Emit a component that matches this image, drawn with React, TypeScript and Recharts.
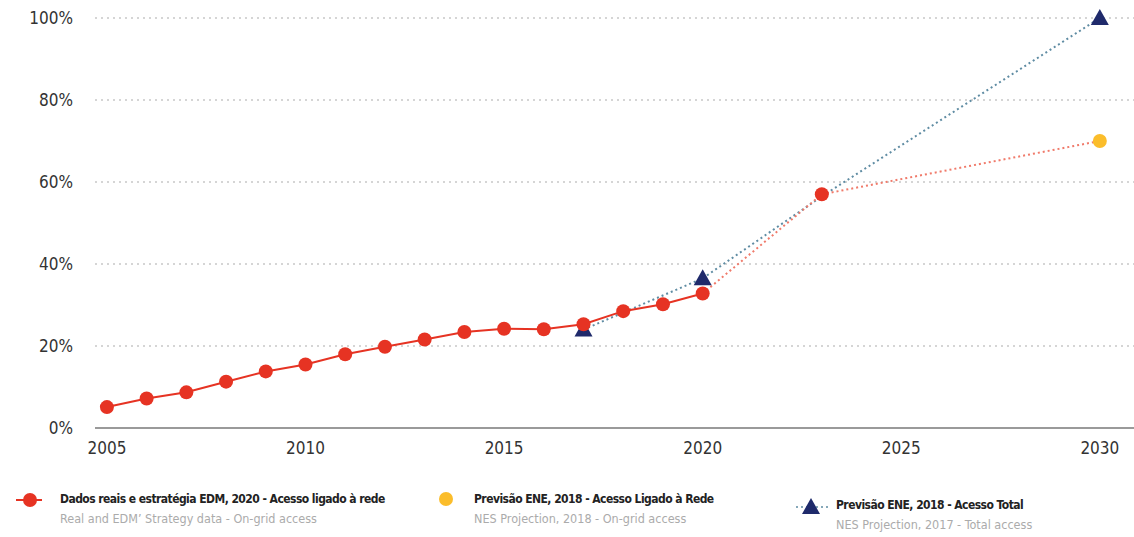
import React from 'react';
import { LineChart, Line, XAxis, YAxis, CartesianGrid } from 'recharts';

const realYears = [2005, 2006, 2007, 2008, 2009, 2010, 2011, 2012, 2013, 2014, 2015, 2016, 2017, 2018, 2019, 2020];
const realValues = [5.1, 7.2, 8.7, 11.3, 13.8, 15.5, 18, 19.8, 21.6, 23.4, 24.2, 24.1, 25.3, 28.5, 30.2, 32.8];

const onGridYears = [2020, 2023, 2030];
const onGridValues = [32.8, 57, 70];

const totalYears = [2017, 2020, 2023, 2030];
const totalValues = [24, 36.5, 56.5, 100];

const xTicks = [2005, 2010, 2015, 2020, 2025, 2030];
const yTicks = [0, 20, 40, 60, 80, 100];

const RED = '#e63323';
const YELLOW = '#fbbd2b';
const NAVY = '#1f2a6b';
const BLUE_LINE = '#5f8ca3';
const FONT = '"Liberation Sans Narrow", "DejaVu Sans Condensed", Roboto, sans-serif';

const realData = realYears.map((year, i) => ({ year, value: realValues[i] }));
const onGridData = onGridYears.map((year, i) => ({ year, value: onGridValues[i] }));
const totalData = totalYears.map((year, i) => ({ year, value: totalValues[i] }));

const Triangle = ({ cx, cy }: { cx: number; cy: number }) => (
  <path d={`M${cx},${cy - 9} L${cx + 9},${cy + 7} L${cx - 9},${cy + 7} Z`} fill={NAVY} />
);

const totalDot = (props: any) => {
  const { cx, cy, payload, index } = props;
  if (payload.year === 2023) return <g key={`t-${index}`} />;
  return <g key={`t-${index}`}><Triangle cx={cx} cy={cy} /></g>;
};

const onGridDot = (props: any) => {
  const { cx, cy, payload, index } = props;
  if (payload.year === 2020) return <g key={`o-${index}`} />;
  const fill = payload.year === 2030 ? YELLOW : RED;
  return <circle key={`o-${index}`} cx={cx} cy={cy} r={7} fill={fill} />;
};

const legendMain: React.CSSProperties = {
  fontFamily: FONT, fontSize: 12, fontWeight: 'bold', color: '#222', whiteSpace: 'nowrap', letterSpacing: -0.55,
};
const legendSub: React.CSSProperties = {
  fontFamily: FONT, fontSize: 12.5, color: '#ababab', whiteSpace: 'nowrap', marginTop: 5, letterSpacing: 0,
};

export default function App() {
  return (
    <div style={{ position: 'absolute', left: 0, top: 0, width: 1134, height: 537, background: '#fff' }}>
      <LineChart width={1134} height={470} margin={{ top: 18, right: 0, bottom: 12, left: 0 }}>
        <CartesianGrid vertical={false} stroke="#c8c8c8" strokeDasharray="2 4" strokeWidth={1.5} />
        <XAxis
          type="number"
          dataKey="year"
          domain={[2004.7, 2030.86]}
          ticks={xTicks}
          height={30}
          tickLine={false}
          axisLine={{ stroke: '#9a9a9a', strokeWidth: 2 }}
          tick={{ fontFamily: FONT, fontSize: 17, fill: '#333' }}
          tickMargin={8}
          allowDuplicatedCategory={false}
        />
        <YAxis
          type="number"
          domain={[0, 100]}
          ticks={yTicks}
          width={95}
          axisLine={false}
          tickLine={false}
          tickMargin={16}
          tickFormatter={(v: number) => `${v}%`}
          tick={{ fontFamily: FONT, fontSize: 17, fill: '#333' }}
        />
        <Line
          data={totalData}
          dataKey="value"
          type="linear"
          stroke={BLUE_LINE}
          strokeWidth={2}
          strokeDasharray="2 3"
          dot={totalDot}
          activeDot={false}
          isAnimationActive={false}
        />
        <Line
          data={onGridData}
          dataKey="value"
          type="linear"
          stroke="#f07a6a"
          strokeWidth={2}
          strokeDasharray="2 3"
          dot={onGridDot}
          activeDot={false}
          isAnimationActive={false}
        />
        <Line
          data={realData}
          dataKey="value"
          type="linear"
          stroke={RED}
          strokeWidth={2}
          dot={{ r: 7, fill: RED, stroke: 'none' }}
          activeDot={false}
          isAnimationActive={false}
        />
      </LineChart>

      <svg style={{ position: 'absolute', left: 14, top: 491 }} width={30} height={18}>
        <line x1={2} y1={9} x2={28} y2={9} stroke={RED} strokeWidth={2} />
        <circle cx={16} cy={9} r={7} fill={RED} />
      </svg>
      <div style={{ position: 'absolute', left: 60, top: 492 }}>
        <div style={legendMain}>Dados reais e estratégia EDM, 2020 - Acesso ligado à rede</div>
        <div style={legendSub}>Real and EDM’ Strategy data - On-grid access</div>
      </div>

      <svg style={{ position: 'absolute', left: 437, top: 490 }} width={18} height={18}>
        <circle cx={9} cy={9} r={7} fill={YELLOW} />
      </svg>
      <div style={{ position: 'absolute', left: 474, top: 492 }}>
        <div style={legendMain}>Previsão ENE, 2018 - Acesso Ligado à Rede</div>
        <div style={legendSub}>NES Projection, 2018 - On-grid access</div>
      </div>

      <svg style={{ position: 'absolute', left: 795, top: 496 }} width={34} height={20}>
        <line x1={1} y1={11} x2={33} y2={11} stroke={BLUE_LINE} strokeWidth={1.5} strokeDasharray="2 3" />
        <Triangle cx={16} cy={11} />
      </svg>
      <div style={{ position: 'absolute', left: 836, top: 498 }}>
        <div style={legendMain}>Previsão ENE, 2018 - Acesso Total</div>
        <div style={legendSub}>NES Projection, 2017 - Total access</div>
      </div>
    </div>
  );
}
